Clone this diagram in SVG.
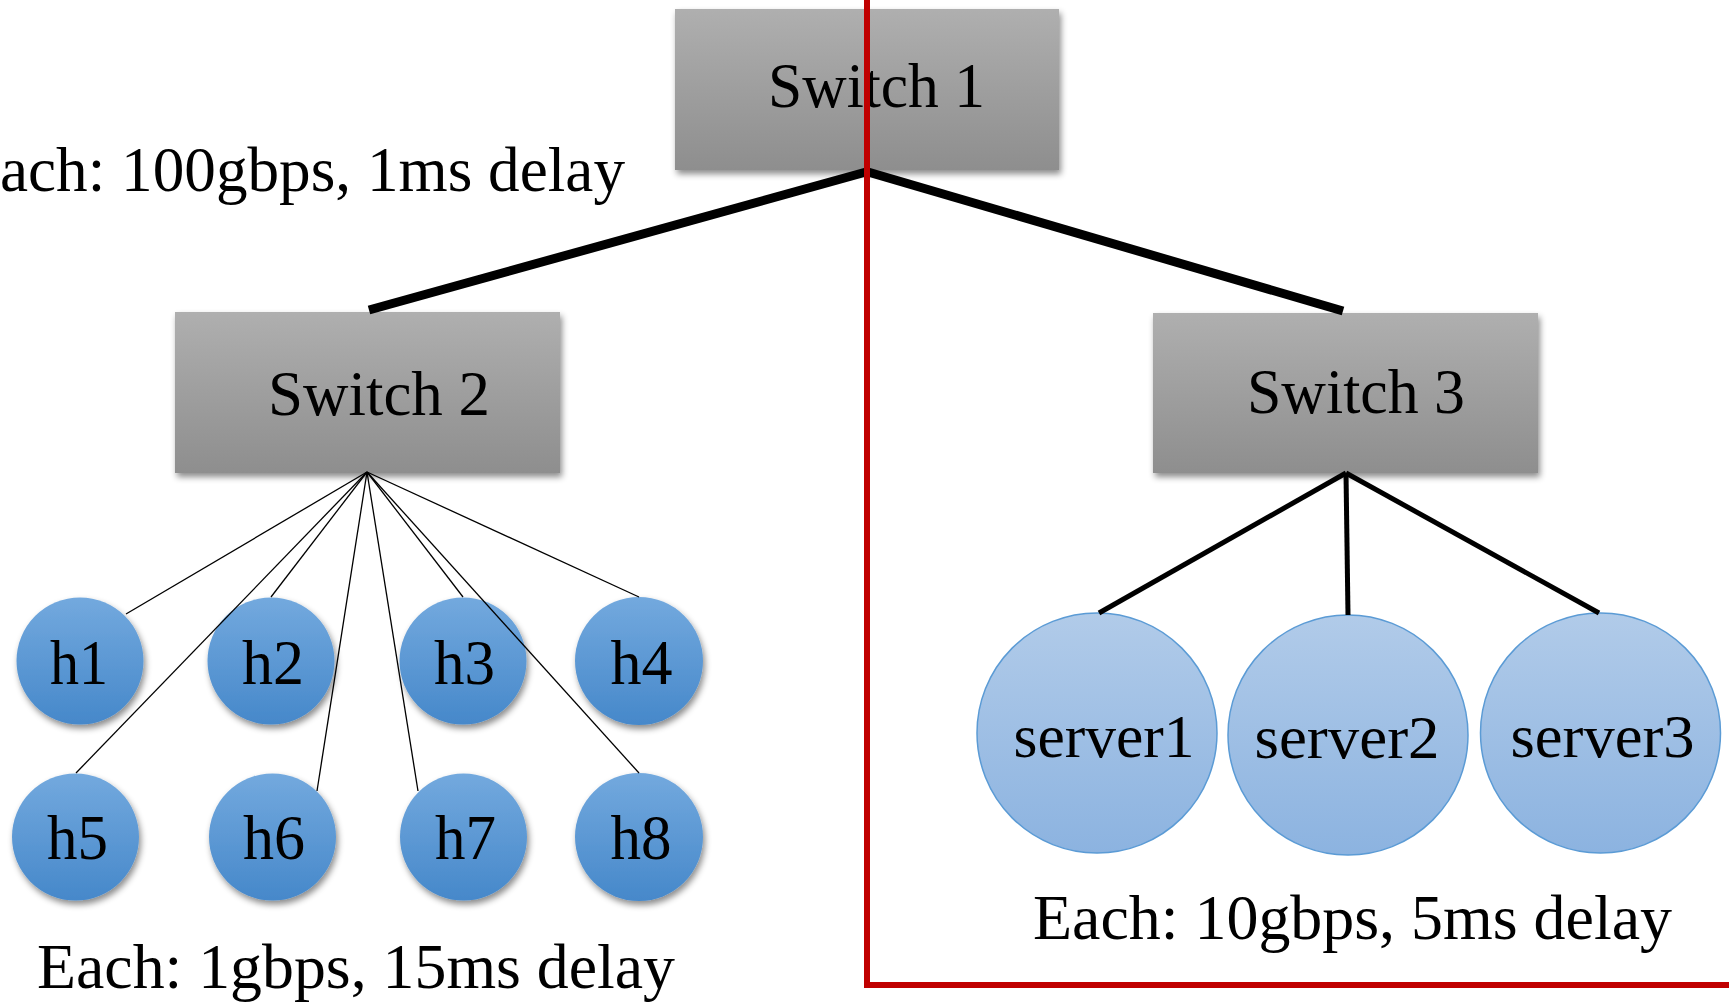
<svg xmlns="http://www.w3.org/2000/svg" width="1729" height="1003" viewBox="0 0 1729 1003">
<style>
  text { font-family: "Liberation Serif", "Times New Roman", serif; fill: #000; }
  .sw { font-size: 64px; }
  .host { font-size: 63px; }
  .srv { font-size: 62px; }
  .lbl { font-size: 64px; }
  .swbox { fill: url(#gGray); filter: url(#shadow); }
  .hostc { fill: url(#gBlue); filter: url(#shadow); }
  .srvc { fill: url(#gLight); stroke: #5b9bd5; stroke-width: 1.5; }
  .thick { stroke: #000; stroke-width: 9; fill: none; }
  .mid { stroke: #000; stroke-width: 5; fill: none; }
  .thin { stroke: #000; stroke-width: 1.3; fill: none; }
  .red { stroke: #c00000; stroke-width: 6; fill: none; }
</style>
<defs>
  <linearGradient id="gGray" x1="0" y1="0" x2="0" y2="1">
    <stop offset="0" stop-color="#afafaf"/>
    <stop offset="1" stop-color="#8e8e8e"/>
  </linearGradient>
  <linearGradient id="gBlue" x1="0" y1="0" x2="0" y2="1">
    <stop offset="0" stop-color="#73a9de"/>
    <stop offset="1" stop-color="#4688ca"/>
  </linearGradient>
  <linearGradient id="gLight" x1="0" y1="0" x2="0" y2="1">
    <stop offset="0" stop-color="#b1cbe9"/>
    <stop offset="1" stop-color="#8cb3e0"/>
  </linearGradient>
  <filter id="shadow" x="-20%" y="-20%" width="140%" height="140%">
    <feDropShadow dx="2" dy="4" stdDeviation="3" flood-color="#000" flood-opacity="0.45"/>
  </filter>
</defs>

<g id="label-top">
  <text class="lbl" x="0" y="191" textLength="625" lengthAdjust="spacingAndGlyphs">ach: 100gbps, 1ms delay</text>
</g>

<g id="switch1">
  <rect class="swbox" x="675" y="9" width="384" height="161"/>
  <text class="sw" x="768" y="107" textLength="217" lengthAdjust="spacingAndGlyphs">Switch 1</text>
</g>
<g id="switch2">
  <rect class="swbox" x="175" y="312" width="385" height="161"/>
  <text class="sw" x="268" y="415" textLength="222" lengthAdjust="spacingAndGlyphs">Switch 2</text>
</g>
<g id="switch3">
  <rect class="swbox" x="1153" y="313" width="385" height="160"/>
  <text class="sw" x="1247" y="413" textLength="218" lengthAdjust="spacingAndGlyphs">Switch 3</text>
</g>

<g id="h1"><circle class="hostc" cx="80" cy="661" r="63.5"/><text class="host" x="79" y="684" text-anchor="middle" textLength="58" lengthAdjust="spacingAndGlyphs">h1</text></g>
<g id="h2"><circle class="hostc" cx="271" cy="661" r="63.5"/><text class="host" x="273" y="684" text-anchor="middle" textLength="62" lengthAdjust="spacingAndGlyphs">h2</text></g>
<g id="h3"><circle class="hostc" cx="463" cy="661" r="63.5"/><text class="host" x="464.5" y="684" text-anchor="middle" textLength="61" lengthAdjust="spacingAndGlyphs">h3</text></g>
<g id="h4"><circle class="hostc" cx="639" cy="661" r="64"/><text class="host" x="641.5" y="684" text-anchor="middle" textLength="62" lengthAdjust="spacingAndGlyphs">h4</text></g>
<g id="h5"><circle class="hostc" cx="75.5" cy="837" r="63.5"/><text class="host" x="77.5" y="859" text-anchor="middle" textLength="61" lengthAdjust="spacingAndGlyphs">h5</text></g>
<g id="h6"><circle class="hostc" cx="272.5" cy="837" r="63.5"/><text class="host" x="274" y="859" text-anchor="middle" textLength="62" lengthAdjust="spacingAndGlyphs">h6</text></g>
<g id="h7"><circle class="hostc" cx="463.5" cy="837" r="63.5"/><text class="host" x="465.5" y="859" text-anchor="middle" textLength="61" lengthAdjust="spacingAndGlyphs">h7</text></g>
<g id="h8"><circle class="hostc" cx="639" cy="837" r="64"/><text class="host" x="641" y="859" text-anchor="middle" textLength="61" lengthAdjust="spacingAndGlyphs">h8</text></g>

<g id="server1"><circle class="srvc" cx="1097" cy="733" r="120"/><text class="srv" x="1104" y="757" text-anchor="middle" textLength="181" lengthAdjust="spacingAndGlyphs">server1</text></g>
<g id="server2"><circle class="srvc" cx="1348" cy="735" r="120"/><text class="srv" x="1347" y="758" text-anchor="middle" textLength="185" lengthAdjust="spacingAndGlyphs">server2</text></g>
<g id="server3"><circle class="srvc" cx="1600.5" cy="733" r="120"/><text class="srv" x="1602.5" y="757" text-anchor="middle" textLength="184" lengthAdjust="spacingAndGlyphs">server3</text></g>

<g id="label-hosts">
  <text class="lbl" x="37" y="988" textLength="638" lengthAdjust="spacingAndGlyphs">Each: 1gbps, 15ms delay</text>
</g>
<g id="label-servers">
  <text class="lbl" x="1033" y="939" textLength="639" lengthAdjust="spacingAndGlyphs">Each: 10gbps, 5ms delay</text>
</g>

<g id="connectors">
  <line class="thick" x1="866" y1="172" x2="369" y2="310"/>
  <line class="thick" x1="868" y1="172" x2="1343" y2="311"/>
  <line class="thin" x1="367" y1="472" x2="126" y2="614"/>
  <line class="thin" x1="367" y1="472" x2="271" y2="597"/>
  <line class="thin" x1="367" y1="472" x2="463" y2="597"/>
  <line class="thin" x1="367" y1="472" x2="639" y2="597"/>
  <line class="thin" x1="367" y1="472" x2="76" y2="773"/>
  <line class="thin" x1="367" y1="472" x2="317" y2="791"/>
  <line class="thin" x1="367" y1="472" x2="418" y2="791"/>
  <line class="thin" x1="367" y1="472" x2="639" y2="773"/>
  <line class="mid" x1="1346" y1="473" x2="1099" y2="613"/>
  <line class="mid" x1="1346" y1="473" x2="1348" y2="615"/>
  <line class="mid" x1="1346" y1="473" x2="1599" y2="613"/>
</g>

<g id="boundary">
  <polyline class="red" points="867,0 867,985 1729,985"/>
</g>
</svg>
